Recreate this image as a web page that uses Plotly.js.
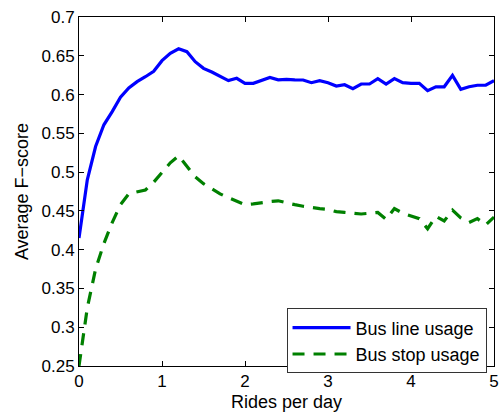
<!DOCTYPE html>
<html>
<head>
<meta charset="utf-8">
<script src="https://cdn.plot.ly/plotly-3.0.1.min.js"></script>
<style>html,body{margin:0;padding:0;background:#fff;}#chart{width:500px;height:413px;}</style>
</head>
<body>
<div id="chart"></div>
<script>
const ridesPerDay = [0,0.1,0.2,0.3,0.4,0.5,0.6,0.7,0.8,0.9,1.0,1.1,1.2,1.3,1.4,1.5,1.6,1.7,1.8,1.9,2.0,2.1,2.2,2.3,2.4,2.5,2.6,2.7,2.8,2.9,3.0,3.1,3.2,3.3,3.4,3.5,3.6,3.7,3.8,3.9,4.0,4.1,4.2,4.3,4.4,4.5,4.6,4.7,4.8,4.9,5.0];
const busLineUsage = [0.415,0.49,0.533,0.561,0.578,0.5965,0.6085,0.6166,0.623,0.630,0.6437,0.6532,0.659,0.6553,0.6424,0.6338,0.629,0.624,0.618,0.621,0.6145,0.6145,0.618,0.622,0.619,0.6197,0.619,0.6188,0.6153,0.618,0.6153,0.611,0.6127,0.6076,0.6136,0.6136,0.6205,0.6136,0.6205,0.6153,0.6145,0.6145,0.605,0.610,0.610,0.6248,0.6068,0.610,0.612,0.612,0.618];
const busStopUsage = [0.25,0.325,0.375,0.408,0.435,0.458,0.472,0.474,0.477,0.487,0.500,0.512,0.521,0.508,0.494,0.485,0.478,0.472,0.467,0.463,0.458,0.459,0.461,0.462,0.463,0.460,0.458,0.456,0.454,0.453,0.452,0.449,0.448,0.447,0.446,0.447,0.448,0.439,0.453,0.447,0.444,0.440,0.427,0.443,0.437,0.451,0.441,0.435,0.440,0.432,0.442];
const seriesNames = ["Bus line usage", "Bus stop usage"];
const xTicks = [0,1,2,3,4,5];
const yTicks = [0.25,0.3,0.35,0.4,0.45,0.5,0.55,0.6,0.65,0.7];
const yTickText = ["0.25","0.3","0.35","0.4","0.45","0.5","0.55","0.6","0.65","0.7"];

const font = "Liberation Sans, Arial, Helvetica, sans-serif";
const traces = [
  {x: ridesPerDay, y: busLineUsage, name: seriesNames[0], mode: "lines",
   line: {color: "#0000ff", width: 3.2}},
  {x: ridesPerDay, y: busStopUsage, name: seriesNames[1], mode: "lines",
   line: {color: "#008000", width: 3.2, dash: "12px,9px"}}
];
const axisCommon = {
  showgrid: false, zeroline: false, showline: true, linecolor: "#000", linewidth: 1,
  mirror: "ticks", ticks: "inside", ticklen: 5, tickcolor: "#000",
  tickfont: {family: font, size: 17, color: "#000"}
};
const layout = {
  width: 500, height: 413,
  margin: {l: 79, r: 6, t: 17, b: 47},
  paper_bgcolor: "#fff", plot_bgcolor: "#fff",
  font: {family: font, color: "#000"},
  xaxis: Object.assign({}, axisCommon, {
    range: [0, 5], tickvals: xTicks, ticktext: xTicks.map(String),
    title: {text: "Rides per day", font: {family: font, size: 18, color: "#000"}, standoff: 4}
  }),
  yaxis: Object.assign({}, axisCommon, {
    range: [0.25, 0.7], tickvals: yTicks, ticktext: yTickText,
    title: {text: "Average F\u2212score", font: {family: font, size: 18, color: "#000"}, standoff: 8}
  }),
  showlegend: true,
  legend: {
    x: 0.982, y: 0.165, xanchor: "right", yanchor: "top",
    bgcolor: "#fff", bordercolor: "#333", borderwidth: 1,
    font: {family: font, size: 18, color: "#000"},
    itemwidth: 58, tracegroupgap: 0
  }
};
Plotly.newPlot("chart", traces, layout, {displayModeBar: false, staticPlot: true});
</script>
</body>
</html>
